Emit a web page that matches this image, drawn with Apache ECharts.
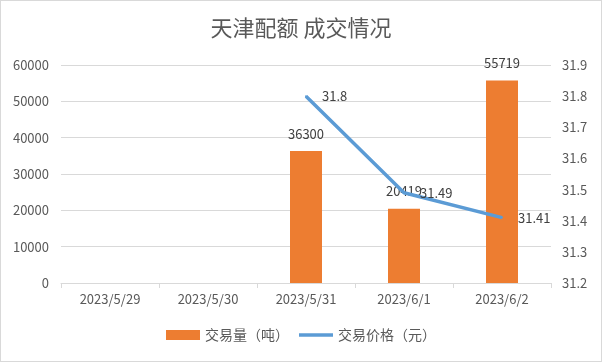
<!DOCTYPE html>
<html><head><meta charset="utf-8">
<script src="https://cdn.jsdelivr.net/npm/echarts@6/dist/echarts.min.js"></script>
<style>html,body{margin:0;padding:0;background:#fff}#c{width:602px;height:362px;box-sizing:border-box;border:1px solid #D9D9D9}</style>
</head><body><div id="c"></div>
<script>
const categories = ['2023/5/29','2023/5/30','2023/5/31','2023/6/1','2023/6/2'];
const volume = [null, null, 36300, 20419, 55719];
const price = [null, null, 31.8, 31.49, 31.41];
const font = '"Noto Sans CJK SC", "Microsoft YaHei", sans-serif';
const chart = echarts.init(document.getElementById('c'), null, {renderer:'canvas'});
chart.setOption({
  animation: false,
  textStyle: {fontFamily: font},
  title: {text: '天津配额 成交情况', left: 'center', top: 11,
    textStyle: {fontSize: 22, fontWeight: 'normal', color: '#595959', fontFamily: font}},
  grid: {left: 60, right: 50, top: 64, bottom: 78},
  legend: {bottom: 14, left: 'center', itemGap: 10, itemWidth: 34, itemHeight: 10,
    textStyle: {fontSize: 14, color: '#595959', fontFamily: font},
    data: [{name: '交易量（吨）', icon: 'rect'},
           {name: '交易价格（元）', icon: 'path://M0,0L34,0L34,3.5L0,3.5Z'}]},
  xAxis: {type: 'category', data: categories,
    axisLine: {lineStyle: {color: '#D9D9D9'}},
    axisTick: {show: true, length: 5, lineStyle: {color: '#D9D9D9'}},
    axisLabel: {color: '#595959', fontSize: 13, margin: 10, fontFamily: font}},
  yAxis: [
    {type: 'value', min: 0, max: 60000, interval: 10000,
      axisLine: {show: false}, axisTick: {show: false},
      splitLine: {lineStyle: {color: '#D9D9D9'}},
      axisLabel: {color: '#595959', fontSize: 13, margin: 12, fontFamily: font,
        formatter: v => String(v)}},
    {type: 'value', min: 31.2, max: 31.9, interval: 0.1,
      axisLine: {show: false}, axisTick: {show: false}, splitLine: {show: false},
      axisLabel: {color: '#595959', fontSize: 13, margin: 11, fontFamily: font,
        formatter: v => v.toFixed(1)}}
  ],
  series: [
    {name: '交易量（吨）', type: 'bar', data: volume, barWidth: 32,
      itemStyle: {color: '#ED7D31'},
      label: {show: true, position: 'top', distance: 11, color: '#404040', fontSize: 13, fontFamily: font}},
    {name: '交易价格（元）', type: 'line', yAxisIndex: 1, data: price,
      symbol: 'circle', symbolSize: 2, showSymbol: true, connectNulls: false,
      lineStyle: {color: '#5B9BD5', width: 3.5}, itemStyle: {color: '#5B9BD5'},
      label: {show: true, position: 'right', distance: 15, color: '#404040', fontSize: 13, fontFamily: font}}
  ]
});
</script></body></html>
